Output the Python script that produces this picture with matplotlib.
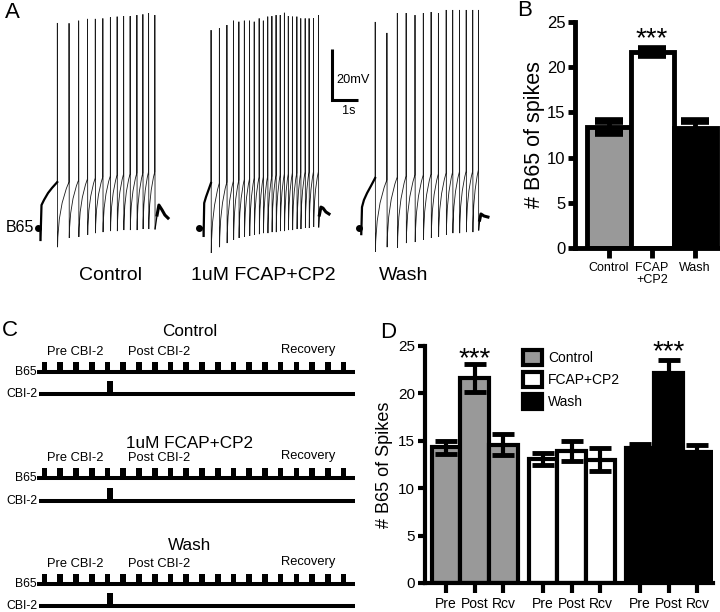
import matplotlib
matplotlib.use("Agg")
import matplotlib.pyplot as plt
from matplotlib.patches import Patch, PathPatch
from matplotlib.path import Path

plt.rcParams["font.family"] = ["Liberation Sans", "DejaVu Sans"]

W, H = 720, 612

# ---------------- data ----------------
# Panel A: B65 recordings, time (s) from trace start, membrane potential (mV)
trace_names = ["Control", "1uM FCAP+CP2", "Wash"]

ctrl_pre_t = [0.0, 0.077, 0.096, 0.135, 0.231, 0.385, 0.538]
ctrl_pre_v = [-60.0, -60.0, -64.7, -51.0, -49.0, -46.3, -44.3]
ctrl_spike_t = [0.74, 1.19, 1.56, 1.90, 2.20, 2.49, 2.78, 3.04, 3.29, 3.54, 3.80, 4.03, 4.25, 4.49]
ctrl_peak = [20.4, 20.3, 21.3, 22.0, 22.0, 22.2, 22.6, 22.9, 23.1, 23.1, 23.5, 23.8, 24.2, 23.5]
ctrl_trough = [-67.5, -63.9, -63.5, -62.7, -62.0, -61.6, -61.2, -61.2, -60.8, -60.8, -60.8, -60.4, -60.4, -60.4]
ctrl_thresh = [-42.0, -42.0, -41.2, -40.8, -40.4, -40.0, -39.6, -39.2, -38.8, -38.8, -38.4, -38.4, -38.0, -38.0]
ctrl_post_t = [4.58, 4.65, 4.77, 4.88, 5.0]
ctrl_post_v = [-54.9, -51.0, -52.9, -54.9, -56.1]

fcap_pre_t = [0.0, 0.165, 0.177, 0.20, 0.27, 0.365]
fcap_pre_v = [-60.0, -60.0, -63.1, -50.2, -47.8, -45.1]
fcap_spike_t = [0.46, 0.78, 1.07, 1.32, 1.53, 1.74, 1.94, 2.12, 2.31, 2.47, 2.64, 2.80,
                2.96, 3.12, 3.28, 3.43, 3.59, 3.76, 3.91, 4.08, 4.23, 4.40, 4.59]
fcap_peak = [17.6, 18.3, 19.6, 21.3, 20.9, 21.3, 21.3, 20.9, 22.2, 21.3, 22.9, 23.1,
             23.5, 23.5, 24.4, 23.1, 22.9, 22.9, 22.2, 22.2, 22.2, 22.2, 23.5]
fcap_trough = [-69.8, -67.5, -65.9, -64.7, -63.9, -63.5, -63.1, -62.7, -62.4, -62.0, -62.0, -61.6,
               -61.6, -61.2, -61.2, -60.8, -60.8, -60.4, -60.4, -60.0, -60.0, -59.6, -59.6]
fcap_thresh = [-42.4, -42.4, -42.0, -41.6, -41.2, -41.0, -40.8, -40.4, -40.0, -40.0, -39.6, -39.6,
               -39.2, -39.2, -38.8, -38.8, -38.4, -38.4, -38.4, -38.0, -38.0, -38.0, -38.0]
fcap_post_t = [4.63, 4.69, 4.77, 4.88, 5.0]
fcap_post_v = [-54.9, -51.8, -52.2, -53.7, -54.5]

wash_pre_t = [0.0, 0.077, 0.088, 0.115, 0.19, 0.31, 0.46]
wash_pre_v = [-60.0, -60.0, -62.4, -51.8, -49.0, -46.3, -43.5]
wash_spike_t = [0.62, 1.07, 1.47, 1.81, 2.15, 2.47, 2.77, 3.05, 3.35, 3.60, 3.86, 4.12, 4.37, 4.59]
wash_peak = [20.8, 16.5, 24.3, 24.3, 23.5, 24.3, 24.7, 24.3, 25.5, 25.5, 25.5, 25.5, 25.5, 25.5]
wash_trough = [-69.4, -67.5, -67.8, -65.9, -65.5, -64.7, -63.9, -63.5, -62.7, -62.0, -62.0, -61.6, -61.6, -60.8]
wash_thresh = [-40.4, -41.2, -40.0, -39.6, -39.2, -39.2, -38.8, -38.8, -38.4, -38.0, -38.0, -37.7, -37.7, -37.3]
wash_post_t = [4.64, 4.69, 4.81, 4.96]
wash_post_v = [-56.9, -54.5, -55.3, -55.7]

# Panel B: spikes per condition
b_labels = ["Control", "FCAP\n+CP2", "Wash"]
b_means = [13.4, 21.7, 13.3]
b_sem = [0.65, 0.35, 0.7]

# Panel C: protocol
c_titles = ["Control", "1uM FCAP+CP2", "Wash"]
n_b65_pulses = 20
cbi2_pulse = 4

# Panel D: spikes before / after CBI-2 and recovery
d_groups = ["Control", "FCAP+CP2", "Wash"]
d_phases = ["Pre", "Post", "Rcv"]
d_means = [[14.3, 21.6, 14.6], [13.1, 13.9, 13.0], [14.2, 22.2, 13.85]]
d_sem = [[0.65, 1.45, 1.15], [0.65, 1.05, 1.2], [0.5, 1.3, 0.75]]

colors = ["#999999", "white", "black"]

# ---------------- figure ----------------
fig = plt.figure(figsize=(W / 100, H / 100), dpi=100)


def ftext(x, y, s, **kw):
    fig.text(x / W, 1 - y / H, s, **kw)


# ---- A ----
ax_a = fig.add_axes([0, 1 - 262 / H, 520 / W, 262 / H])
ax_a.set_xlim(0, 20)
ax_a.set_ylim(-73.33, 29.41)
ax_a.axis("off")


def spike_path(off, spike_t, peak, trough, thresh):
    verts = [(off + spike_t[0] - 0.001, thresh[0])]
    codes = [Path.MOVETO]
    for i in range(len(spike_t)):
        ts = off + spike_t[i]
        verts += [(ts, thresh[i]), (ts + 0.004, peak[i]), (ts + 0.012, trough[i])]
        codes += [Path.LINETO] * 3
        if i + 1 < len(spike_t):
            t0 = ts + 0.012
            t1 = off + spike_t[i + 1]
            dt = t1 - t0
            rng = thresh[i + 1] - trough[i]
            # after-hyperpolarisation recovery drawn as a quadratic curve
            verts += [(t0 + 0.03 * dt, trough[i] + 0.62 * rng), (t1, thresh[i + 1])]
            codes += [Path.CURVE3, Path.CURVE3]
    return Path(verts, codes)


traces = [
    (38 / 26, ctrl_pre_t, ctrl_pre_v, ctrl_spike_t, ctrl_peak, ctrl_trough, ctrl_thresh, ctrl_post_t, ctrl_post_v),
    (199 / 26, fcap_pre_t, fcap_pre_v, fcap_spike_t, fcap_peak, fcap_trough, fcap_thresh, fcap_post_t, fcap_post_v),
    (359 / 26, wash_pre_t, wash_pre_v, wash_spike_t, wash_peak, wash_trough, wash_thresh, wash_post_t, wash_post_v),
]
for off, pt, pv, st, pk, tr, th, qt, qv in traces:
    ax_a.plot([off + t for t in pt[:3]], pv[:3], color="black", lw=0.9)
    ax_a.plot([off + t for t in pt[2:]] + [off + st[0]], pv[2:] + [th[0]], color="black", lw=1.6)
    ax_a.plot(off + pt[0], pv[0], "o", color="black", ms=4)
    ax_a.add_patch(PathPatch(spike_path(off, st, pk, tr, th), fill=False, edgecolor="#1a1a1a", lw=0.6))
    ax_a.plot([off + st[-1] + 0.012, off + qt[0]], [tr[-1], qv[0]], color="black", lw=0.9)
    ax_a.plot([off + t for t in qt], qv, color="black", lw=2.2)

# scale bar 20 mV / 1 s
ax_a.plot([12.77, 12.77, 13.77], [10.2, -9.8, -9.8], color="black", lw=2.2,
          solid_joinstyle="miter", solid_capstyle="butt")
ax_a.text(12.93, -2.0, "20mV", fontsize=9.2, va="center", ha="left")
ax_a.text(13.42, -14.1, "1s", fontsize=9.2, va="center", ha="center")

ftext(34, 228, "B65", fontsize=11.5, ha="right", va="center")
for name, xc in zip(trace_names, [110, 263, 404]):
    ftext(xc, 275, name, fontsize=14, ha="center", va="center")

# ---- B ----
ax_b = fig.add_axes([575 / W, 1 - 248 / H, 145 / W, 226 / H])
xb = list(range(len(b_means)))
ax_b.bar(xb, b_means, width=1.0, color=colors, edgecolor="black", linewidth=3.5, zorder=2)
ax_b.errorbar(xb, b_means, yerr=b_sem, fmt="none", ecolor="black", elinewidth=3.5,
              capsize=10, capthick=5.5, zorder=3)
ax_b.set_xlim(-0.79, 2.58)
ax_b.set_ylim(0, 25)
ax_b.set_yticks([0, 5, 10, 15, 20, 25])
ax_b.set_xticks(xb)
ax_b.set_xticklabels(b_labels, fontsize=9, linespacing=1.0)
ax_b.tick_params(axis="y", labelsize=12, length=5, width=3.5, pad=2)
ax_b.tick_params(axis="x", length=7, width=3.5, pad=3)
ax_b.set_ylabel("# B65 of spikes", fontsize=15.5, labelpad=1)
for s in ["top", "right"]:
    ax_b.spines[s].set_visible(False)
for s in ["left", "bottom"]:
    ax_b.spines[s].set_linewidth(3.5)
ax_b.text(1, 23.1, "***", fontsize=20, ha="center", va="center", clip_on=False)

# ---- C ----
ax_c = fig.add_axes([0, 0, 360 / W, 302 / H])
ax_c.set_xlim(-2.65, 20.22)
ax_c.set_ylim(612, 310)
ax_c.axis("off")
row_y = [371.7, 478.3, 584.0]
title_y = [331.7, 443.5, 545.0]
pulses = list(range(n_b65_pulses))
for title, ry, ty in zip(c_titles, row_y, title_y):
    ax_c.text(9.42, ty, title, fontsize=12.3, ha="center", va="center")
    ax_c.text(2.12, ry - 20, "Pre CBI-2", fontsize=9.3, ha="center", va="center")
    ax_c.text(7.45, ry - 20, "Post CBI-2", fontsize=9.3, ha="center", va="center")
    ax_c.text(16.92, ry - 22, "Recovery", fontsize=9.3, ha="center", va="center")
    ax_c.plot([-0.3, 19.9], [ry, ry], color="black", lw=2.9, solid_capstyle="butt")
    ax_c.bar(pulses, -10, width=0.36, bottom=ry, align="edge", color="black")
    cy = ry + 22.3
    ax_c.plot([-0.2, 19.9], [cy, cy], color="black", lw=2.9, solid_capstyle="butt")
    ax_c.bar([cbi2_pulse + 0.15], -13, width=0.4, bottom=cy, align="edge", color="black")
    ax_c.text(-0.35, ry, "B65", fontsize=8.8, ha="right", va="center")
    ax_c.text(-0.25, cy, "CBI-2", fontsize=8.8, ha="right", va="center")

# ---- D ----
ax_d = fig.add_axes([425 / W, 1 - 583 / H, 288 / W, 237 / H])
group_step = 3.38
xd_all, lab_all = [], []
for g, (m, e, c) in enumerate(zip(d_means, d_sem, colors)):
    xd = [g * group_step + i for i in range(len(d_phases))]
    ax_d.bar(xd, m, width=1.0, color=c, edgecolor="black", linewidth=3, zorder=2)
    ax_d.errorbar(xd, m, yerr=e, fmt="none", ecolor="black", elinewidth=3,
                  capsize=8, capthick=3.5, zorder=3)
    xd_all += xd
    lab_all += d_phases
ax_d.set_xlim(-0.73, 9.3)
ax_d.set_ylim(0, 25)
ax_d.set_yticks([0, 5, 10, 15, 20, 25])
ax_d.set_xticks(xd_all)
ax_d.set_xticklabels(lab_all, fontsize=10)
ax_d.tick_params(axis="y", labelsize=11, length=5, width=3, pad=2)
ax_d.tick_params(axis="x", length=7, width=3, pad=3)
ax_d.set_ylabel("# B65 of Spikes", fontsize=13, labelpad=4)
for s in ["top", "right"]:
    ax_d.spines[s].set_visible(False)
for s in ["left", "bottom"]:
    ax_d.spines[s].set_linewidth(3)
ax_d.text(1, 23.65, "***", fontsize=20, ha="center", va="center", clip_on=False)
ax_d.text(2 * group_step + 1, 24.3, "***", fontsize=20, ha="center", va="center", clip_on=False)
handles = [Patch(facecolor=c, edgecolor="black", linewidth=3) for c in colors]
ax_d.legend(handles, d_groups, loc="upper left", bbox_to_anchor=(0.34, 0.985), frameon=False,
            fontsize=10, handlelength=1.35, handleheight=1.3, labelspacing=0.5,
            handletextpad=0.45, borderaxespad=0, borderpad=0)

# panel letters
ftext(12, 13, "A", fontsize=16, ha="center", va="center")
ftext(525, 10, "B", fontsize=16, ha="center", va="center")
ftext(10, 331, "C", fontsize=16, ha="center", va="center")
ftext(388, 332, "D", fontsize=16, ha="center", va="center")

fig.savefig("out.png", dpi=100)
